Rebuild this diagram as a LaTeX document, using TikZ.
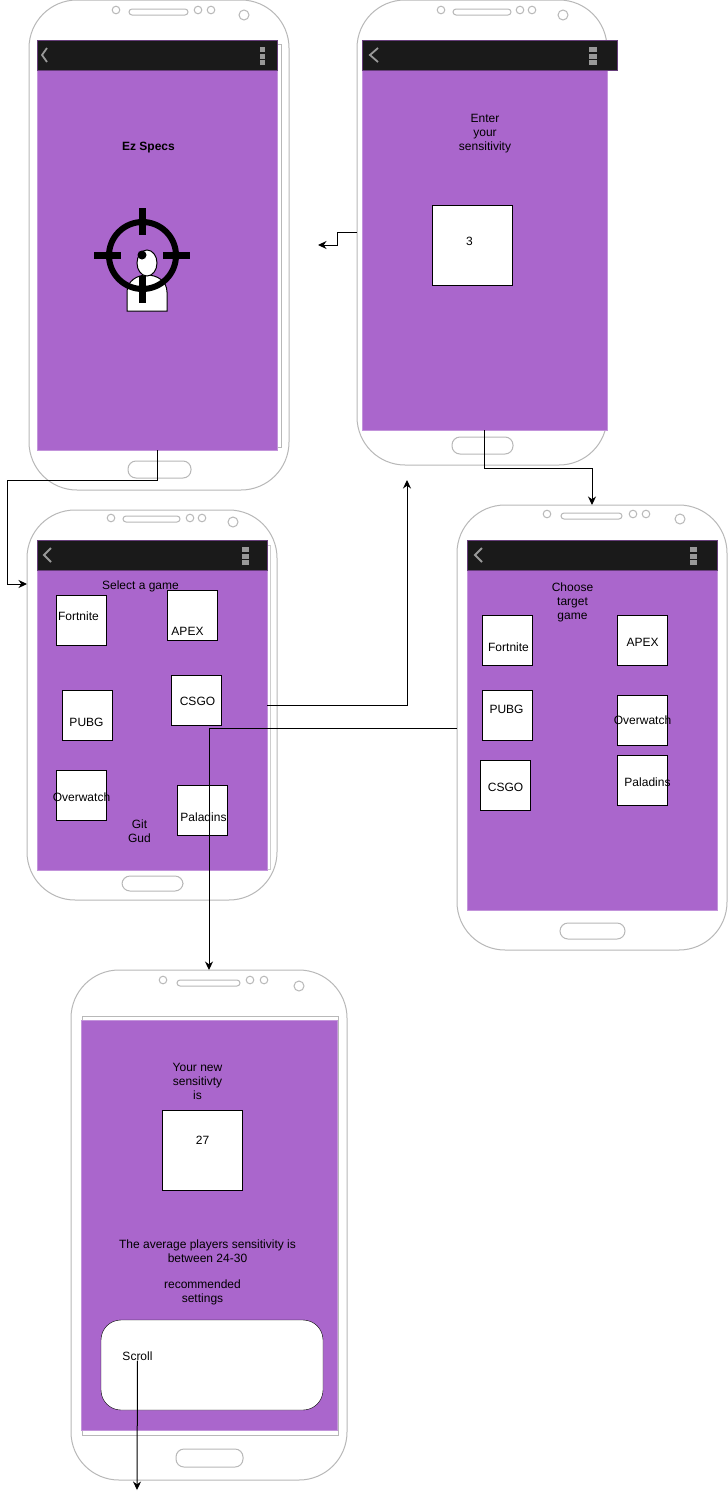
\documentclass[tikz,border=0pt]{standalone}
\usepackage{fontspec}
\setmainfont{Liberation Sans}
\definecolor{holopurple}{HTML}{AA66CC}
\definecolor{barblack}{HTML}{1A1A1A}
\definecolor{phonegray}{HTML}{B8B8B8}
\definecolor{iconsgray}{HTML}{999999}
\usetikzlibrary{arrows.meta, positioning}

\begin{document}
\begin{tikzpicture}[
    x=1pt, y=-1pt,
    phone/.style={draw=phonegray, line width=1pt, fill=white, rounded corners=48pt, inner sep=0pt, outer sep=0pt},
    screen/.style={draw=holopurple!70!white, fill=holopurple, inner sep=0pt, outer sep=0pt},
    backing/.style={draw=phonegray, fill=white},
    topbar/.style={fill=barblack, draw=holopurple!60!black, inner sep=0pt, outer sep=0pt, minimum height=30},
    tile/.style={draw, fill=white, inner sep=0pt, outer sep=0pt, minimum width=50, minimum height=50},
    bigtile/.style={tile, minimum width=80, minimum height=80},
    txt/.style={font=\fontsize{12}{14}\selectfont, text=black, align=center, inner sep=0pt, xshift=0.5pt, yshift=-1pt},
    deco/.style={draw=phonegray, line width=1pt},
    chevron/.style={draw=iconsgray, line width=1.8pt},
    arr/.style={-{Stealth[length=8.5pt, width=8pt]}, draw=black, line width=1pt},
  ]
  \useasboundingbox (0,0) rectangle (728,1499);

  % phone bodies
  \node[phone, minimum width=260, minimum height=490] (ph1) at (159,245) {};
  \node[phone, minimum width=250, minimum height=465] (ph2) at (482,232.5) {};
  \node[phone, minimum width=250, minimum height=390] (ph3) at (152,705) {};
  \node[phone, minimum width=270, minimum height=445] (ph4) at (592,727.5) {};
  \node[phone, minimum width=276, minimum height=510] (ph5) at (209,1225) {};

  % speaker, sensors, camera, home button
  \foreach \sl/\sr/\sy/\ca/\cb/\cc/\cy/\cam/\camy/\hl/\hr/\ht/\hb in {
      129/188/12/116/198/211/10/244/15/128/191/461/478,
      453/511/12/441/520/532/10/563/15/452/513/437/454,
      123/180/519/111/190/202/518/233/522/122/183/876/891,
      561/622/516/547/633/646/514/680/519/560/625/923/939,
      177/240/983/163/250/264/980/299/986/176/243/1449/1467}{
    \draw[deco, rounded corners=3pt] (\sl,\sy-3) rectangle (\sr,\sy+3);
    \draw[deco] (\ca,\cy) circle (3.8pt) (\cb,\cy) circle (3.8pt) (\cc,\cy) circle (3.8pt);
    \draw[deco] (\cam,\camy) circle (5pt);
    \draw[deco, rounded corners=8pt] (\hl,\ht) rectangle (\hr,\hb);
  }

  % frames that show behind the screens
  \draw[backing] (38,44) rectangle (281,447);
  \draw[draw=phonegray!70, fill=white] (38,545) rectangle (270,869);
  \draw[backing] (82,1016) rectangle (338,1435);

  % screens
  \node[screen, minimum width=240, minimum height=410] (scr1) at (157,245) {};
  \node[screen, minimum width=245, minimum height=390] (scr2) at (484.5,235) {};
  \node[screen, minimum width=230, minimum height=330] (scr3) at (152,705) {};
  \node[screen, minimum width=250, minimum height=370] (scr4) at (592,725) {};
  \node[screen, minimum width=256, minimum height=410] (scr5) at (209,1225) {};

  % title bars
  \node[topbar, minimum width=240] (bar1) at (157,55) {};
  \node[topbar, minimum width=255] (bar2) at (489.5,55) {};
  \node[topbar, minimum width=230] (bar3) at (152,555) {};
  \node[topbar, minimum width=250] (bar4) at (592,555) {};

  \draw[chevron] (47,48) -- (42,55) -- (47,62);
  \draw[chevron] (378,48) -- (370,55) -- (378,62);
  \draw[chevron] (51,548) -- (44,555) -- (51,562);
  \draw[chevron] (482,548) -- (475,555) -- (482,562);

  \foreach \mx/\my/\mw in {262/47/5, 593/47/8, 245/547/7, 693/547/7}{
    \foreach \k in {0,6.5,13}{
      \fill[iconsgray] (\mx-\mw/2,\my+\k) rectangle (\mx+\mw/2,\my+\k+5);
    }
  }

  % first screen
  \node[txt, font=\fontsize{12}{14}\selectfont\bfseries] (title) at (148,147) {Ez Specs};
  \draw[fill=white, line width=1pt] (127,311) -- (127,292) .. controls (127,281) and (137,275) .. (147,275)
    .. controls (157,275) and (167,281) .. (167,292) -- (167,311) -- cycle;
  \draw[fill=white, line width=1pt] (147,263) ellipse (10pt and 13pt);
  \fill (142,255) circle (4.5pt);
  \draw[line width=6pt] (142.5,255.5) circle (33.5pt);
  \draw[line width=7pt] (142.5,208) -- (142.5,235) (142.5,276) -- (142.5,303)
    (94,255.5) -- (121,255.5) (163,255.5) -- (190,255.5);

  % sensitivity screen
  \node[txt] (entertxt) at (484.5,133) {Enter\\your\\sensitivity};
  \node[bigtile] (oldsens) at (472,245) {};
  \node[txt] (oldval) at (469,240) {3};

  % game screen
  \node[txt] (seltxt) at (140,585) {Select a game};
  \node[tile] (t1) at (81,620) {};
  \node[tile] (t2) at (192,615) {};
  \node[tile] (t3) at (87,715) {};
  \node[tile] (t4) at (196,700) {};
  \node[tile] (t5) at (81,795) {};
  \node[tile] (t6) at (202,810) {};
  \node[txt] (l1) at (78,615) {Fortnite};
  \node[txt] (l2) at (187,630) {APEX};
  \node[txt] (l3) at (86,721) {PUBG};
  \node[txt] (l4) at (197,700) {CSGO};
  \node[txt] (l5) at (81,796) {Overwatch};
  \node[txt] (l6) at (203,816) {Paladins};
  \node[txt] (gitgud) at (139,830) {Git\\Gud};

  % target game screen
  \node[txt] (choosetxt) at (572,601) {Choose\\target\\game};
  \node[tile] (g1) at (507,640) {};
  \node[tile] (g2) at (642,640) {};
  \node[tile] (g3) at (507,715) {};
  \node[tile] (g4) at (642,720) {};
  \node[tile] (g5) at (505,785) {};
  \node[tile] (g6) at (642,780) {};
  \node[txt] (m1) at (508,646) {Fortnite};
  \node[txt] (m2) at (642,641) {APEX};
  \node[txt] (m3) at (506,708) {PUBG};
  \node[txt] (m4) at (642,719) {Overwatch};
  \node[txt] (m5) at (505,786) {CSGO};
  \node[txt] (m6) at (647,781) {Paladins};

  % result screen
  \node[txt] (newtxt) at (197,1080) {Your new\\sensitivty\\is};
  \node[bigtile] (newsens) at (202,1150) {};
  \node[txt] (newval) at (202,1139) {27};
  \node[txt] (avgtxt) at (207,1250) {The average players sensitivity is\\between 24-30};
  \node[txt] (rectxt) at (202,1291) {recommended\\settings};
  \node[draw, fill=white, rounded corners=20pt, minimum width=222, minimum height=90, inner sep=0pt, outer sep=0pt] (scrollbox) at (212,1365) {};
  \node[txt] (scrolltxt) at (137,1355) {Scroll};

  % free ends of the connectors
  \coordinate (turn1) at (7,480);
  \coordinate (in3) at (27,584);
  \coordinate (out2) at (318,245);
  \coordinate (out3) at (407,480);
  \coordinate (out5) at (137,1490);

  \draw[arr] (scr1.south) |- (turn1) |- (in3);
  \draw[arr] (ph2.west) -- ++(-20,0) |- (out2);
  \draw[arr] (scr2.south) -- ++(0,38) -| (ph4.north);
  \draw[arr] (scr3.east) -| (out3);
  \draw[arr] ([yshift=-1pt]ph4.west) -| (ph5.north);
  \draw[arr] (scrolltxt.south) -- (out5);
\end{tikzpicture}
\end{document}
